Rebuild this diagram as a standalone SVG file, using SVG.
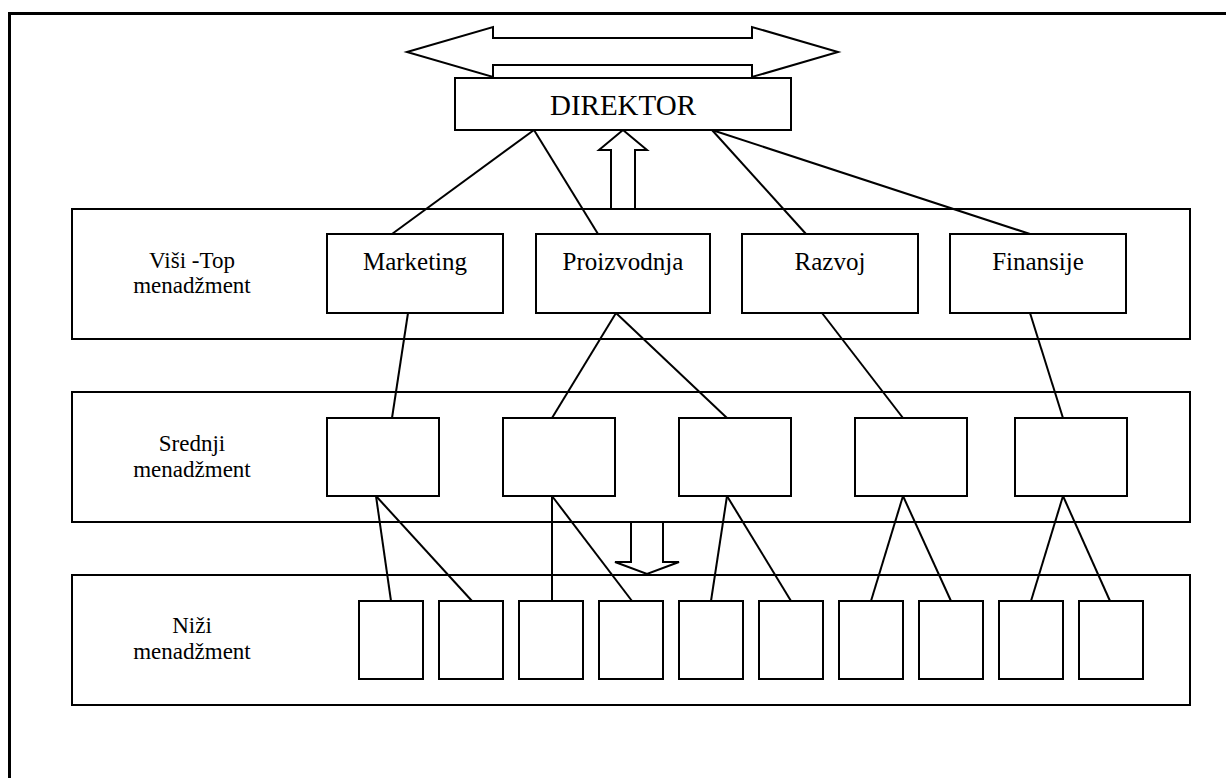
<svg xmlns="http://www.w3.org/2000/svg" width="1226" height="778" viewBox="0 0 1226 778">
  <style>
    .box { fill: #ffffff; stroke: #000000; stroke-width: 2; }
    .lane { fill: #ffffff; stroke: #000000; stroke-width: 2; }
    .arrow { fill: #ffffff; stroke: #000000; stroke-width: 2; stroke-linejoin: miter; }
    .link { stroke: #000000; stroke-width: 2; fill: none; }
    .lbl { font-family: "Liberation Serif", "Times New Roman", serif; fill: #000000; text-anchor: middle; }
    .lane-lbl { font-size: 23px; }
    .node-lbl { font-size: 25px; }
  </style>

  <rect x="0" y="0" width="1226" height="778" fill="#ffffff"/>
  <!-- page frame -->
  <rect x="9.5" y="13.5" width="1240" height="800" fill="none" stroke="#000000" stroke-width="3"/>

  <!-- management levels -->
  <g id="level-top">
    <rect class="lane" x="72" y="209" width="1118" height="130"/>
    <text class="lbl lane-lbl" x="192" y="268">Viši -Top</text>
    <text class="lbl lane-lbl" x="192" y="293">menadžment</text>
  </g>
  <g id="level-middle">
    <rect class="lane" x="72" y="392" width="1118" height="130"/>
    <text class="lbl lane-lbl" x="192" y="451">Srednji</text>
    <text class="lbl lane-lbl" x="192" y="477">menadžment</text>
  </g>
  <g id="level-lower">
    <rect class="lane" x="72" y="575" width="1118" height="130"/>
    <text class="lbl lane-lbl" x="192" y="633">Niži</text>
    <text class="lbl lane-lbl" x="192" y="659">menadžment</text>
  </g>

  <!-- double arrow above the director -->
  <g id="arrow-horizontal">
    <polygon class="arrow" points="407,52 493,27 493,38 752,38 752,27 838,52 752,77 752,65 493,65 493,77"/>
  </g>

  <!-- connectors -->
  <g id="connectors">
    <line class="link" x1="534" y1="130" x2="392" y2="234"/>
    <line class="link" x1="534" y1="130" x2="598" y2="234"/>
    <line class="link" x1="712" y1="130" x2="806" y2="234"/>
    <line class="link" x1="712" y1="130" x2="1030" y2="234"/>

    <line class="link" x1="408" y1="313" x2="392" y2="418"/>
    <line class="link" x1="616" y1="313" x2="552" y2="418"/>
    <line class="link" x1="616" y1="313" x2="727" y2="418"/>
    <line class="link" x1="822" y1="313" x2="903" y2="418"/>
    <line class="link" x1="1030" y1="313" x2="1063" y2="418"/>

    <line class="link" x1="376" y1="496" x2="391" y2="601"/>
    <line class="link" x1="376" y1="496" x2="472" y2="601"/>
    <line class="link" x1="552" y1="496" x2="552" y2="601"/>
    <line class="link" x1="552" y1="496" x2="632" y2="601"/>
    <line class="link" x1="727" y1="496" x2="711" y2="601"/>
    <line class="link" x1="727" y1="496" x2="791" y2="601"/>
    <line class="link" x1="903" y1="496" x2="871" y2="601"/>
    <line class="link" x1="903" y1="496" x2="951" y2="601"/>
    <line class="link" x1="1063" y1="496" x2="1031" y2="601"/>
    <line class="link" x1="1063" y1="496" x2="1110" y2="601"/>
  </g>

  <!-- upward and downward flow arrows -->
  <g id="arrow-up">
    <polygon class="arrow" points="623,130 647,150 635,150 635,209 611,209 611,150 599,150"/>
  </g>
  <g id="arrow-down">
    <polygon class="arrow" points="631,522 663,522 663,562 679,562 647,574 615,562 631,562"/>
  </g>

  <g id="director">
    <rect class="box" x="455" y="78" width="336" height="52"/>
    <text class="lbl" x="623" y="115" font-size="29">DIREKTOR</text>
  </g>

  <g id="marketing">
    <rect class="box" x="327" y="234" width="176" height="79"/>
    <text class="lbl node-lbl" x="415" y="270">Marketing</text>
  </g>
  <g id="proizvodnja">
    <rect class="box" x="536" y="234" width="174" height="79"/>
    <text class="lbl node-lbl" x="623" y="270">Proizvodnja</text>
  </g>
  <g id="razvoj">
    <rect class="box" x="742" y="234" width="176" height="79"/>
    <text class="lbl node-lbl" x="830" y="270">Razvoj</text>
  </g>
  <g id="finansije">
    <rect class="box" x="950" y="234" width="176" height="79"/>
    <text class="lbl node-lbl" x="1038" y="270">Finansije</text>
  </g>

  <g id="mid-1"><rect class="box" x="327" y="418" width="112" height="78"/></g>
  <g id="mid-2"><rect class="box" x="503" y="418" width="112" height="78"/></g>
  <g id="mid-3"><rect class="box" x="679" y="418" width="112" height="78"/></g>
  <g id="mid-4"><rect class="box" x="855" y="418" width="112" height="78"/></g>
  <g id="mid-5"><rect class="box" x="1015" y="418" width="112" height="78"/></g>

  <g id="low-1"><rect class="box" x="359" y="601" width="64" height="78"/></g>
  <g id="low-2"><rect class="box" x="439" y="601" width="64" height="78"/></g>
  <g id="low-3"><rect class="box" x="519" y="601" width="64" height="78"/></g>
  <g id="low-4"><rect class="box" x="599" y="601" width="64" height="78"/></g>
  <g id="low-5"><rect class="box" x="679" y="601" width="64" height="78"/></g>
  <g id="low-6"><rect class="box" x="759" y="601" width="64" height="78"/></g>
  <g id="low-7"><rect class="box" x="839" y="601" width="64" height="78"/></g>
  <g id="low-8"><rect class="box" x="919" y="601" width="64" height="78"/></g>
  <g id="low-9"><rect class="box" x="999" y="601" width="64" height="78"/></g>
  <g id="low-10"><rect class="box" x="1079" y="601" width="64" height="78"/></g>
</svg>
